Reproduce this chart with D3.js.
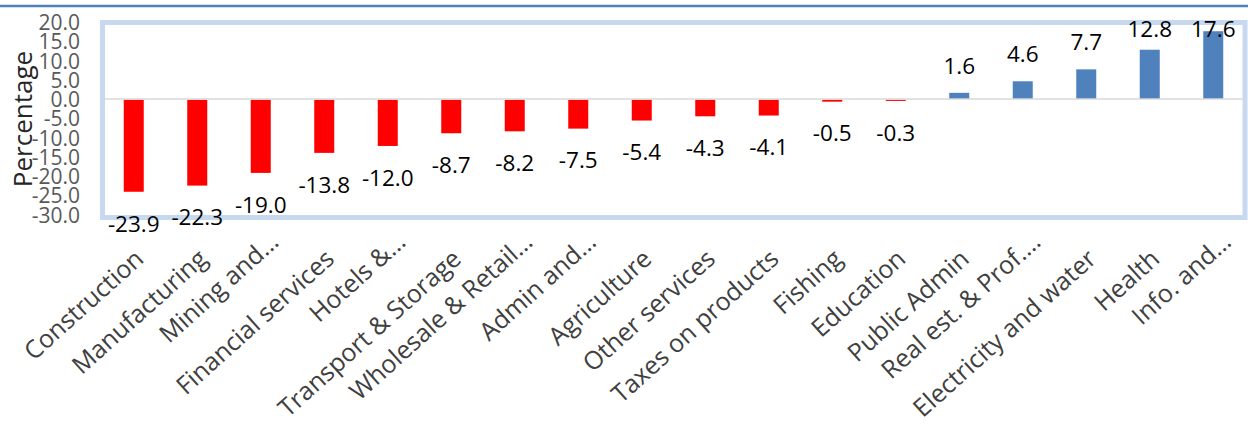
<!DOCTYPE html>
<html>
<head>
<meta charset="utf-8">
<script src="https://cdn.jsdelivr.net/npm/d3@7"></script>
<style>
  html, body { margin: 0; padding: 0; background: #ffffff; }
  svg { display: block; }
</style>
</head>
<body>
<div id="chart"></div>
<script>
const categories = ["Construction", "Manufacturing", "Mining and…", "Financial services", "Hotels &…",
  "Transport & Storage", "Wholesale & Retail…", "Admin and…", "Agriculture", "Other services",
  "Taxes on products", "Fishing", "Education", "Public  Admin", "Real est. & Prof.…",
  "Electricity and water", "Health", "Info. and…"];
const values = [-23.9, -22.3, -19.0, -13.8, -12.0, -8.7, -8.2, -7.5, -5.4, -4.3, -4.1, -0.5, -0.3, 1.6, 4.6, 7.7, 12.8, 17.6];
const yTicks = [-30, -25, -20, -15, -10, -5, 0, 5, 10, 15, 20];
const yTitle = "Percentage";

const W = 1248, H = 436;
const fmt = d3.formatLocale({decimal: ".", thousands: ",", grouping: [3], currency: ["", ""], minus: "-"}).format(".1f");

const svg = d3.select("#chart").append("svg").attr("width", W).attr("height", H);
svg.append("rect").attr("width", W).attr("height", H).attr("fill", "#ffffff");

const x = d3.scaleBand().domain(categories).range([102, 1245]).paddingInner(0.685).paddingOuter(0.3425);
const y = d3.scaleLinear().domain([-30, 20]).range([214.5, 22]);

// top rule
svg.append("line").attr("x1", 0).attr("x2", W).attr("y1", 6).attr("y2", 6)
  .attr("stroke", "#4f81bd").attr("stroke-width", 2.5);

// plot frame
svg.append("rect").attr("x", 102.5).attr("y", 22.5).attr("width", 1142.5).attr("height", 195)
  .attr("fill", "none").attr("stroke", "#c6d9f1").attr("stroke-width", 5);

// y tick labels
const yAxis = d3.axisLeft(y).tickValues(yTicks).tickFormat(fmt).tickSize(0).tickPadding(0);
const gy = svg.append("g").attr("transform", "translate(80,0)").call(yAxis);
gy.select(".domain").remove();
gy.selectAll("text").attr("font-family", "'Open Sans', sans-serif").attr("font-size", 21)
  .attr("fill", "#595959").attr("dy", "0.36em");

// bars
svg.selectAll("rect.bar").data(values).join("rect").attr("class", "bar")
  .attr("x", (d, i) => x(categories[i]))
  .attr("width", x.bandwidth())
  .attr("y", d => d < 0 ? y(0) + 0.75 : y(d))
  .attr("height", d => Math.abs(y(d) - y(0)))
  .attr("fill", d => d < 0 ? "#ff0000" : "#4f81bd");

// zero line
svg.append("line").attr("x1", 105).attr("x2", 1242.5).attr("y1", y(0)).attr("y2", y(0))
  .attr("stroke", "#d9d9d9").attr("stroke-width", 1.5);

// data labels
svg.selectAll("text.val").data(values).join("text").attr("class", "val")
  .attr("x", (d, i) => x(categories[i]) + x.bandwidth() / 2)
  .attr("y", d => d < 0 ? y(d) + 40.5 : Math.max(y(d) - 19, 37))
  .attr("text-anchor", "middle")
  .attr("font-family", "'Open Sans', sans-serif").attr("font-size", 22.5).attr("fill", "#000000")
  .text(d => fmt(d));

// category labels
svg.selectAll("text.cat").data(categories).join("text").attr("class", "cat")
  .attr("transform", d => {
    const cx = x(d) + x.bandwidth() / 2;
    const trunc = d.endsWith("…");
    const ax = cx + (trunc ? 19.5 : 11.5);
    const ay = trunc ? 244 : 261;
    return `translate(${ax},${ay}) rotate(-42)`;
  })
  .attr("text-anchor", "end")
  .attr("font-family", "'Open Sans', sans-serif").attr("font-size", 25).attr("fill", "#404040")
  .text(d => d);

// y title
svg.append("text").attr("transform", "translate(32,119) rotate(-90)")
  .attr("text-anchor", "middle")
  .attr("font-family", "'Open Sans', sans-serif").attr("font-size", 26).attr("fill", "#262626")
  .text(yTitle);
</script>
</body>
</html>
